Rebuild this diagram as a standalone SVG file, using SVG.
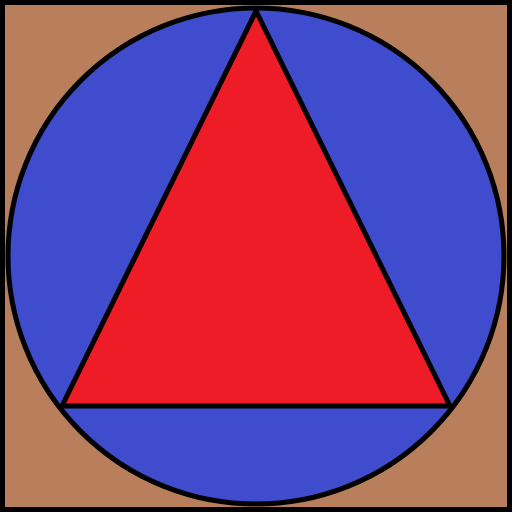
<svg xmlns="http://www.w3.org/2000/svg" width="512" height="512" viewBox="0 0 512 512">
<style>
.s{stroke:#000;stroke-width:5}
</style>
<rect class="s" x="2.5" y="2.5" width="507" height="507" fill="#b97f5c"/>
<circle class="s" cx="256" cy="256" r="248" fill="#3e4ccd"/>
<polygon class="s" points="256,11 62,406 450,406" fill="#ed1c26"/>
</svg>
